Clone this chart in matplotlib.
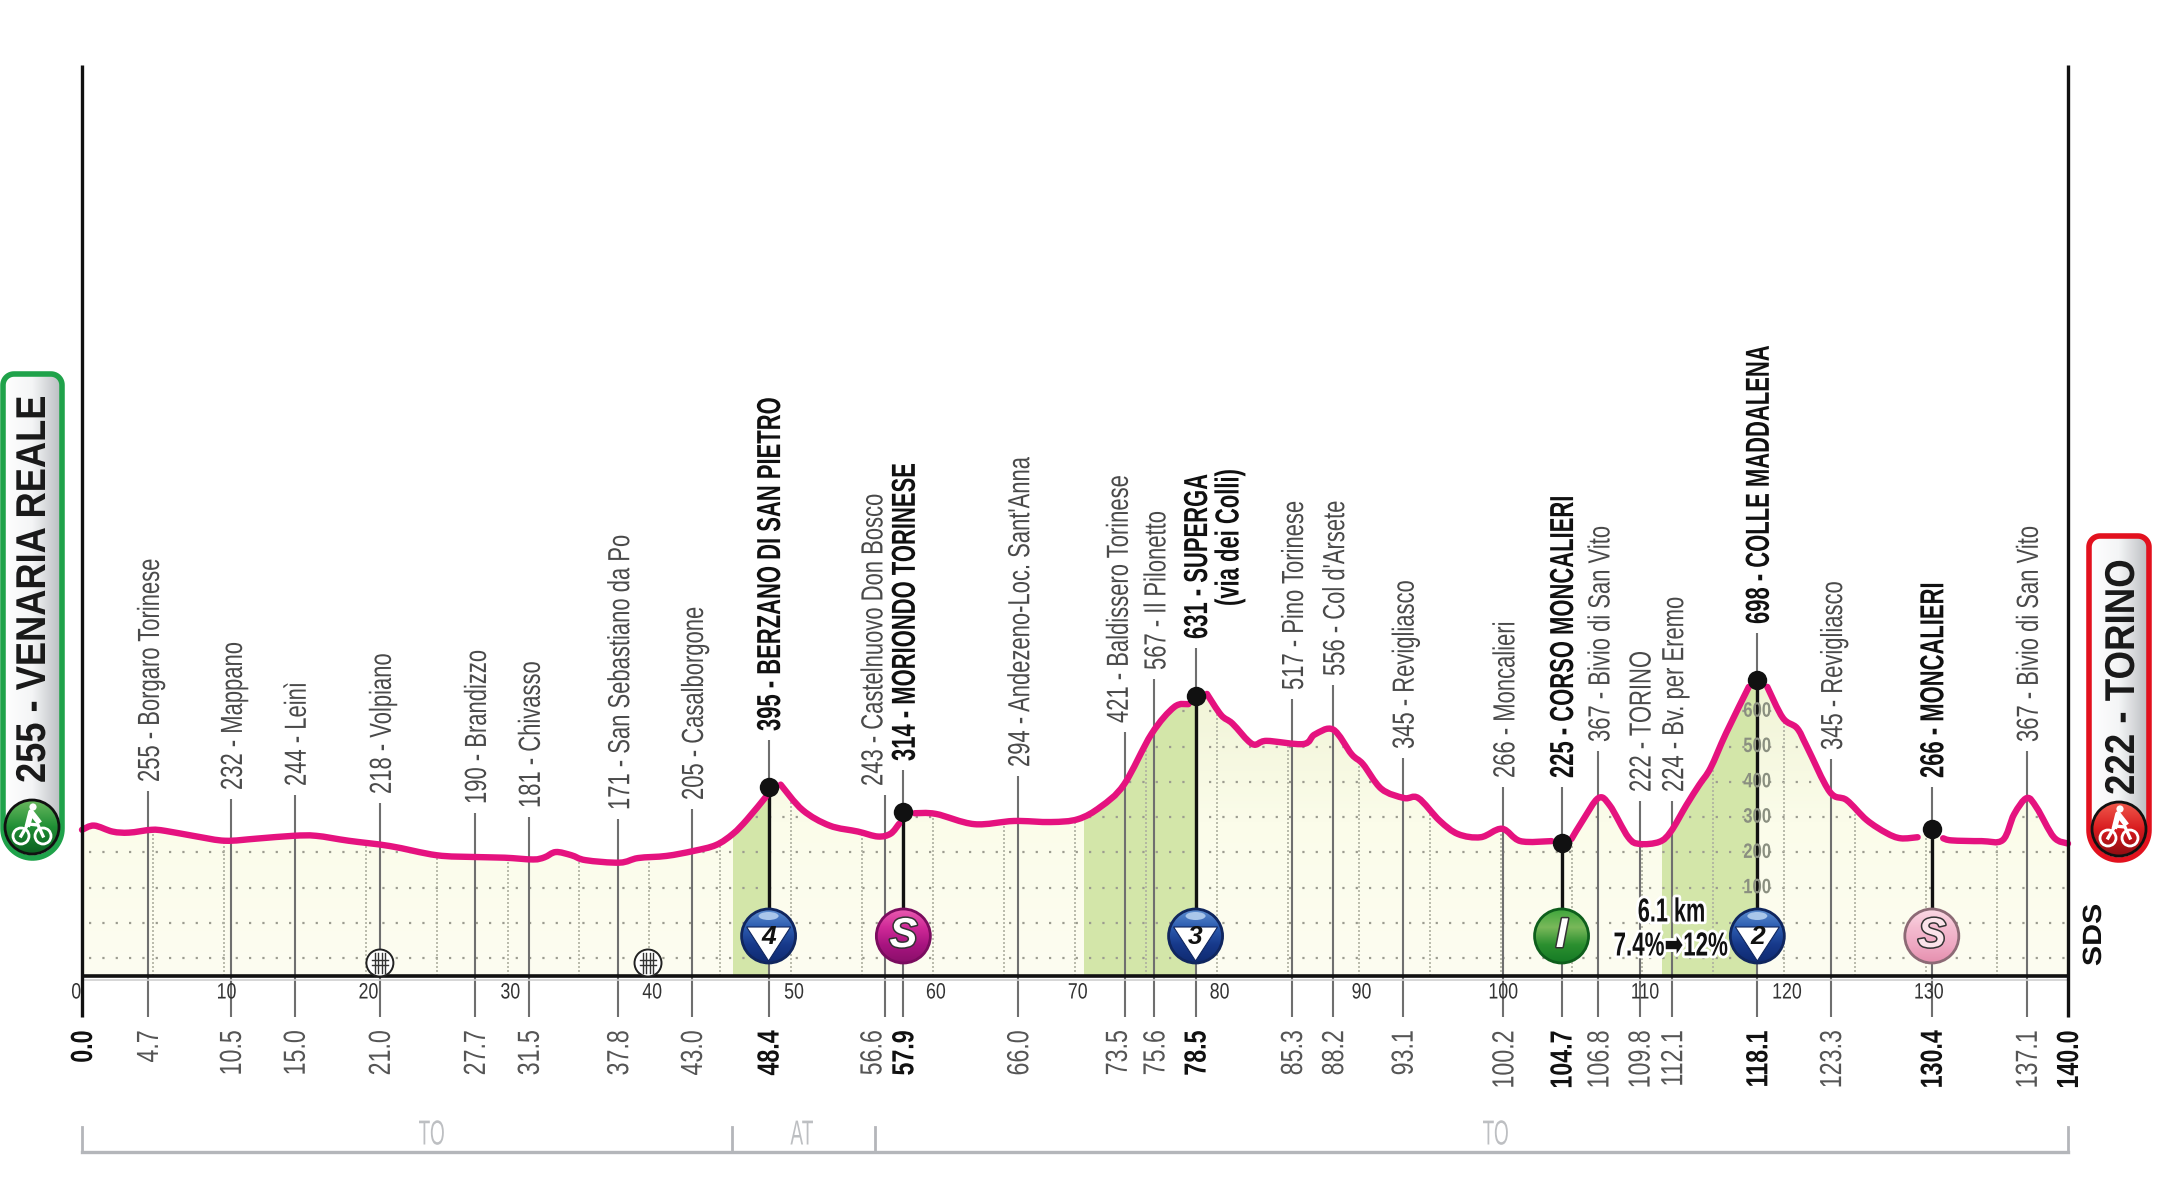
import numpy as np
import matplotlib
matplotlib.use("Agg")
import matplotlib.pyplot as plt
import matplotlib.patheffects as pe
from matplotlib.colors import LinearSegmentedColormap
from matplotlib.patches import Circle, Ellipse, PathPatch, Polygon
from matplotlib.path import Path
from matplotlib.transforms import Affine2D

FONT = ["Liberation Sans", "DejaVu Sans"]

# profile: km, metres
profile_km = [0, 0.85, 2.15, 3.3, 4.9, 5.87, 8.1, 10.1, 12.3, 14.9, 16.5, 18.8, 21.7, 25, 27.6, 29.8, 31.8,
              32.6, 33.4, 34.5, 35.5, 37.9, 39.2, 41.2, 43.1, 44.7, 45.9, 46.9, 48.2, 48.4, 49.25, 50.8, 52.7,
              54.7, 56.1, 57, 57.6, 57.9, 58.7, 60.2, 62.9, 65.7, 68.3, 70.2, 71.8, 73.45, 75.4, 77, 78, 78.5,
              79.3, 80.3, 81.1, 82.5, 83.5, 86.1, 86.9, 88.2, 89.5, 90.3, 91.6, 93.2, 94.2, 95.7, 97, 98.6,
              100.1, 101.4, 103.6, 104.3, 105, 105.8, 106.9, 107.7, 109, 109.8, 111.2, 112, 113.1, 114, 114.8,
              115.9, 117.5, 118.1, 118.8, 119.9, 120.9, 121.6, 123.2, 124.4, 125.8, 127.2, 128.2, 129.4, 130.4,
              131.2, 131.8, 133.9, 135.4, 136.2, 137.1, 137.8, 139, 140]
profile_m = [264, 276, 259, 256, 264, 261, 245, 233, 239, 247, 247, 233, 218, 192, 187, 185, 180,
             186, 201, 192, 178, 171, 184, 190, 204, 221, 253, 294, 357, 386, 392, 320, 276,
             259, 245, 253, 281, 314, 311, 309, 280, 289, 286, 294, 329, 392, 536, 612, 620, 644,
             649, 589, 565, 507, 516, 507, 534, 548, 478, 450, 380, 354, 354, 290, 252, 243,
             267, 232, 232, 228, 238, 291, 354, 333, 243, 224, 230, 259, 334, 391, 439,
             538, 669, 688, 669, 581, 552, 499, 372, 348, 292, 255, 240, 243, 265,
             240, 234, 232, 235, 308, 354, 326, 243, 225]
line_gaps = [(48.2, 49.25), (57.6, 58.7), (78, 79.3), (103.6, 105), (117.5, 118.8), (129.4, 131.2)]
climbs = [(45.9, 48.4), (70.6, 78.5), (111.4, 118.1)]

tick_text = ["4.7", "10.5", "15.0", "21.0", "27.7", "31.5", "37.8", "43.0", "48.4", "56.6", "57.9", "66.0",
             "73.5", "75.6", "78.5", "85.3", "88.2", "93.1", "100.2", "104.7", "106.8", "109.8", "112.1",
             "118.1", "123.3", "130.4", "137.1"]
tick_pos = [4.65, 10.5, 15, 21, 27.7, 31.5, 37.8, 43, 48.4, 56.6, 57.9, 66,
            73.5, 75.6, 78.5, 85.3, 88.2, 93.1, 100.2, 104.3, 106.9, 109.8, 112.1,
            118.1, 123.3, 130.4, 137.1]
places = ["255 - Borgaro Torinese", "232 - Mappano", "244 - Leinì", "218 - Volpiano", "190 - Brandizzo",
          "181 - Chivasso", "171 - San Sebastiano da Po", "205 - Casalborgone", "395 - BERZANO DI SAN PIETRO",
          "243 - Castelnuovo Don Bosco", "314 - MORIONDO TORINESE", "294 - Andezeno-Loc. Sant'Anna",
          "421 - Baldissero Torinese", "567 - Il Pilonetto", "631 - SUPERGA", "517 - Pino Torinese",
          "556 - Col d'Arsete", "345 - Revigliasco", "266 - Moncalieri", "225 - CORSO MONCALIERI",
          "367 - Bivio di San Vito", "222 - TORINO", "224 - Bv. per Eremo", "698 - COLLE MADDALENA",
          "345 - Revigliasco", "266 - MONCALIERI", "367 - Bivio di San Vito"]
# tops of the thin lines, in pixels of the picture
stem_top = [791, 799, 795, 803, 813, 817, 819, 809, 740, 795, 770, 776, 732, 679, 648, 699, 685, 758,
            787, 787, 751, 801, 801, 633, 759, 787, 751]
# labels pushed off their line in the original, in km
label_shift = {56.6: -0.95, 73.5: -0.55}
key_points = [48.4, 57.9, 78.5, 104.3, 118.1, 130.4]
km_axis = list(range(0, 140, 10))
grid_m = [-100, 0, 100, 200, 300, 400, 500, 600, 700]
climb_scale = [100, 200, 300, 400, 500, 600]


class Squeeze(pe.AbstractPathEffect):
    # no condensed font here, so the glyphs get narrowed along the text direction
    def __init__(self, s, anchor=0.0, halo=None):
        super().__init__()
        self.s = s
        self.anchor = anchor
        self.halo = halo

    def draw_path(self, renderer, gc, tpath, affine, rgbFace=None):
        pivot = self.anchor * tpath.get_extents().x1
        new = Affine2D().translate(-pivot, 0).scale(self.s, 1).translate(pivot, 0) + affine
        if self.halo:
            pe.withStroke(linewidth=self.halo, foreground="white").draw_path(renderer, gc, tpath, new, rgbFace)
        else:
            renderer.draw_path(gc, tpath, new, rgbFace)


def txt(axis, x, y, s, size, squeeze, anchor=0.0, halo=None, **kw):
    return axis.text(x, y, s, family=FONT, fontsize=size, path_effects=[Squeeze(squeeze, anchor, halo)], **kw)


def smooth_path(xs, ys):
    # bezier through the read points so the line is drawn round, as in the original
    verts = [(xs[0], ys[0])]
    codes = [Path.MOVETO]
    for i in range(len(xs) - 1):
        x0, y0 = (xs[i - 1], ys[i - 1]) if i else (xs[i], ys[i])
        x3, y3 = (xs[i + 2], ys[i + 2]) if i + 2 < len(xs) else (xs[i + 1], ys[i + 1])
        verts += [(xs[i] + (xs[i + 1] - x0) / 6, ys[i] + (ys[i + 1] - y0) / 6),
                  (xs[i + 1] - (x3 - xs[i]) / 6, ys[i + 1] - (y3 - ys[i]) / 6),
                  (xs[i + 1], ys[i + 1])]
        codes += [Path.CURVE4] * 3
    return Path(verts, codes)


fig = plt.figure(figsize=(21.6, 11.98), dpi=100, facecolor="white")

# x: 82px = km 0, 2068px = km 140 / y: 923px = 0 m, 35.3 px per 100 m
xscale = (2068 - 82) / 140
yscale = 0.353


def to_m(py):
    return (923 - py) / yscale


ax = fig.add_axes([0, 0, 1, 1], zorder=1)
ax.set_xlim(-82 / xscale, (2160 - 82) / xscale)
ax.set_ylim(to_m(1198), to_m(0))
ax.axis("off")

deco = fig.add_axes([0, 0, 1, 1], zorder=2)
deco.patch.set_alpha(0)
deco.axis("off")


def kx(km):
    return ax.transData.transform((km, 0))[0]


base = to_m(975.5)
km = np.array(profile_km, dtype=float)
ele = np.array(profile_m, dtype=float)

# area below the profile
area = Polygon(np.column_stack([np.r_[0, km, 140], np.r_[base, ele, base]]), closed=True,
               transform=ax.transData, fc="none", ec="none")
ax.add_patch(area)
bg = LinearSegmentedColormap.from_list("bg", ["#FDFDF1", "#FBFCEA", "#EFF3D4"])
im = ax.imshow(np.linspace(0, 1, 200).reshape(-1, 1), extent=(0, 140, base, 720), origin="upper",
               cmap=bg.reversed(), aspect="auto", zorder=1)
im.set_clip_path(area)
ax.set_xlim(-82 / xscale, (2160 - 82) / xscale)
ax.set_ylim(to_m(1198), to_m(0))

for a, b in climbs:
    s = ax.axvspan(a, b, color="#D3E6A9", lw=0, zorder=2)
    s.set_clip_path(area)

for m in grid_m:
    g, = ax.plot([0.5, 140], [m, m], color="#9C9C90", lw=1.6, ls=(0, (1, 5)), zorder=3)
    g.set_clip_path(area)
for k in range(5, 140, 5):
    g, = ax.plot([k, k], [base, 720], color="#AEB0A0", lw=1.2, ls=(0, (1.2, 1.2)), zorder=3)
    g.set_clip_path(area)

# thin lines and the texts above them
nudge = 3 / xscale
for k, label, top in zip(tick_pos, places, stem_top):
    key = k in key_points
    lx = k + nudge + label_shift.get(k, 0)
    ax.plot([k, k], [to_m(1017), to_m(top)], color="#6F6F6F", lw=1.5, zorder=4, solid_capstyle="butt")
    if key:
        txt(ax, lx, to_m(top - 9), label, 24, 0.66, rotation=90, ha="center", va="bottom", fontweight="bold",
            color="#111111", zorder=6)
    else:
        txt(ax, lx, to_m(top - 9), label, 22, 0.72, rotation=90, ha="center", va="bottom", color="#4A4A4A", zorder=6)
txt(ax, (1230 - 82) / xscale, to_m(606), "(via dei Colli)", 24, 0.66, rotation=90, ha="center", va="bottom",
    fontweight="bold", color="#111111", zorder=6)

# pink line with gaps round the black points
start = 0
for a, b in line_gaps + [(141, 142)]:
    run = (km >= start) & (km <= a)
    ax.add_patch(PathPatch(smooth_path(km[run], ele[run]), fc="none", ec="#E5127F", lw=4.6, capstyle="round",
                           joinstyle="round", zorder=7))
    start = b

for k in key_points:
    y = np.interp(k, km, ele)
    ax.plot([k, k], [to_m(935), y], color="#111111", lw=2.4, zorder=5, solid_capstyle="butt")
    ax.plot([k], [y], "o", color="#111111", ms=14, mew=0, zorder=8)

for m in climb_scale:
    txt(ax, 118.1, m, str(m), 15, 0.8, anchor=0.5, ha="center", va="center", fontweight="bold",
        color="#8A8F80", zorder=5)

# frame
ax.plot([0, 140], [base, base], color="#111111", lw=2.6, zorder=9, solid_capstyle="butt")
ax.plot([0, 140], [to_m(979.5), to_m(979.5)], color="#CFCFCF", lw=1.2, zorder=9)
for k in (0, 140):
    ax.plot([k, k], [to_m(1017), to_m(65)], color="#111111", lw=2.4, zorder=9, solid_capstyle="butt")

for k in km_axis:
    txt(ax, k + 0.2 if k else -0.4, to_m(993), str(k), 16, 0.8, anchor=0.5, ha="center", va="center",
        color="#333333", zorder=5)

# km under the axis
for k, label in zip(tick_pos, tick_text):
    key = k in key_points
    txt(ax, k + 2 / xscale + label_shift.get(k, 0), to_m(1030), label, 22, 0.76, anchor=1.0, rotation=90, ha="center",
        va="top", fontweight="bold" if key else "normal", color="#111111" if key else "#555555")
for k, label in ((0, "0.0"), (140, "140.0")):
    txt(ax, k + 2 / xscale, to_m(1030), label, 22, 0.76, anchor=1.0, rotation=90, ha="center", va="top",
        fontweight="bold", color="#111111")

# province brackets
band_y = to_m(1152)
ax.plot([0, 140], [band_y, band_y], color="#B4B6BA", lw=2.4, zorder=3)
for k in (0, (732 - 82) / xscale, (875 - 82) / xscale, 140):
    ax.plot([k, k], [band_y, to_m(1127)], color="#B4B6BA", lw=2, zorder=3)
for px, label in ((432, "TO"), (802, "AT"), (1496, "TO")):
    txt(ax, (px - 82) / xscale, to_m(1135), label, 25, 0.55, anchor=0.5, ha="center", va="center", color="#BDBFC2")


def shaded(shape, colours, box, horizontal=False, z=3):
    cmap = LinearSegmentedColormap.from_list("c", colours)
    data = np.linspace(0, 1, 128).reshape(1, -1) if horizontal else np.linspace(0, 1, 128).reshape(-1, 1)
    shape.set_transform(deco.transData)
    img = deco.imshow(data, extent=box, origin="upper", cmap=cmap, aspect="auto", interpolation="bilinear", zorder=z)
    img.set_clip_path(shape)


def disc(cx, cy, r, colours, rim, z=3):
    c = Circle((cx, cy), r, transform=deco.transData, fc="none", ec="none")
    deco.add_patch(c)
    shaded(c, colours, (cx - r, cx + r, cy + r, cy - r), z=z)
    deco.add_patch(Circle((cx, cy), r, fc="none", ec=rim, lw=2, zorder=z + 0.1))


def climb_badge(k, number):
    cx, cy = kx(k), 936
    disc(cx, cy, 27, ["#5F8FD0", "#2C5CB0", "#17398A", "#0F2A70"], "#10265E")
    deco.add_patch(Ellipse((cx, cy - 20), 20, 8, fc="#A9C6EA", ec="none", zorder=3.2))
    deco.add_patch(Polygon([(cx - 22, cy - 9), (cx + 22, cy - 9), (cx, cy + 25)], fc="white", ec="#10265E", lw=0.8,
                           zorder=3.3))
    deco.text(cx, cy + 1, number, ha="center", va="center", family=FONT, fontsize=19, fontweight="bold",
              fontstyle="italic", color="#111111", zorder=3.4)


def letter_badge(k, letter, colours, rim, fill="white"):
    cx, cy = kx(k), 936
    disc(cx, cy, 27, colours, rim)
    deco.text(cx, cy, letter, ha="center", va="center", family=FONT, fontsize=30, fontweight="bold",
              fontstyle="italic", color=fill, zorder=3.4,
              path_effects=[pe.withStroke(linewidth=2.2, foreground="#333333")])


climb_badge(48.4, "4")
climb_badge(78.5, "3")
climb_badge(118.1, "2")
letter_badge(57.9, "S", ["#E95BB0", "#D02A98", "#A81480", "#8A0F6A"], "#7A0C5E")
letter_badge(104.3, "I", ["#3FA63C", "#79B85A", "#2B8F2F", "#157A25"], "#0E5E1C")
letter_badge(130.4, "S", ["#FBD9E4", "#F4BCD0", "#EFA9C3", "#E58FAE"], "#8C6A75", fill="#FBE3EA")

# railway crossings
for k in (21, 39.9):
    cx = kx(k)
    deco.add_patch(Ellipse((cx, 963), 27, 27, fc="white", ec="#222222", lw=1.4, zorder=3))
    for dx in (-5, -1.7, 1.7, 5):
        deco.plot([cx + dx, cx + dx], [953, 973], color="#333333", lw=1, zorder=3.1)
    for dy in (-3, 2):
        deco.plot([cx - 8, cx + 8], [963 + dy, 963 + dy], color="#333333", lw=1, zorder=3.1)

# steep section note
txt(deco, 1672, 913, "6.1 km", 24, 0.65, anchor=0.5, halo=4, ha="center", va="center", fontweight="bold",
    color="#111111", zorder=5)
txt(deco, 1671, 947, "7.4%➡12%", 24, 0.67, anchor=0.5, halo=4, ha="center", va="center", fontweight="bold",
    color="#111111", zorder=5)

txt(deco, 2094, 935, "SDS", 19, 1.15, anchor=0.5, rotation=90, ha="center", va="center", fontweight="bold",
    color="#111111")


def pill(x0, x1, y0, y1, edge, label, text_x, text_bottom, squeeze, circle_x, circle_y, bike_fill):
    r = (x1 - x0) / 2
    t = np.linspace(0, np.pi / 2, 12)
    corner = 11
    pts = []
    pts += list(zip(x0 + corner - corner * np.cos(t), y0 + corner - corner * np.sin(t)))
    pts += list(zip(x1 - corner + corner * np.sin(t), y0 + corner - corner * np.cos(t)))
    a = np.linspace(0, np.pi, 40)
    pts += list(zip(x0 + r + r * np.cos(a), y1 - r + r * np.sin(a)))
    body = Polygon(pts, closed=True, fc="none", ec="none")
    deco.add_patch(body)
    shaded(body, ["#FFFFFF", "#F4F5F6", "#B9BCC0"], (x0, x1, y1, y0), horizontal=True, z=3)
    deco.add_patch(Polygon(pts, closed=True, fc="none", ec=edge, lw=4, zorder=3.2))
    txt(deco, text_x, text_bottom, label, 30, squeeze, rotation=90, ha="center", va="bottom",
        fontweight="bold", color="#1A1A1A", zorder=4)
    disc(circle_x, circle_y, 27, bike_fill, "#111111", z=4)
    # small cyclist
    for dx in (-11, 11):
        deco.add_patch(Circle((circle_x + dx, circle_y + 9), 8, fc="none", ec="white", lw=2, zorder=4.3))
    deco.plot([circle_x - 11, circle_x - 4, circle_x + 6, circle_x + 11], [circle_y + 9, circle_y - 3, circle_y - 2,
              circle_y + 9], color="white", lw=2.4, zorder=4.3)
    deco.plot([circle_x - 4, circle_x - 1, circle_x + 6], [circle_y - 3, circle_y - 15, circle_y - 6], color="white",
              lw=4, zorder=4.3)
    deco.add_patch(Circle((circle_x + 1, circle_y - 20), 3.6, fc="white", ec="none", zorder=4.3))


pill(3, 62, 374, 858, "#1FA24A", "255 - VENARIA REALE", 34, 783, 0.87, 32, 827, ["#69B85E", "#1F8E35", "#0B5E20"])
pill(2089, 2149, 536, 860, "#E2111E", "222 - TORINO", 2123, 795, 0.88, 2119, 829, ["#F05A4C", "#D81B1F", "#8E0D12"])

deco.set_xlim(0, 2160)
deco.set_ylim(1198, 0)

fig.savefig("out.png", dpi=100, facecolor="white")
